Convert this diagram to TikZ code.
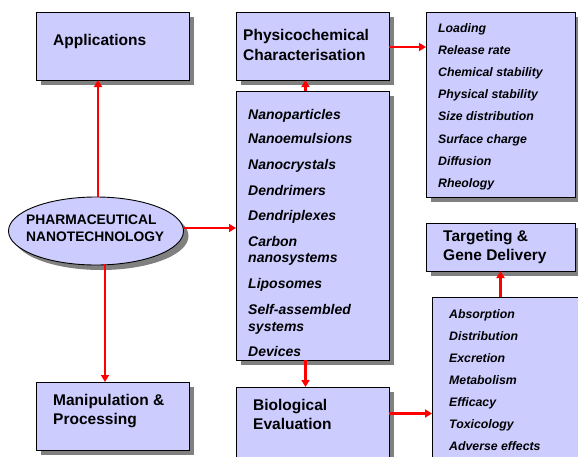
\documentclass[tikz,border=0pt]{standalone}
\usepackage{fontspec}
\setmainfont{Liberation Sans}
\usetikzlibrary{shapes.geometric,shadows,arrows.meta,calc}
\definecolor{boxfill}{HTML}{CCCCFF}
\definecolor{shadowgray}{HTML}{808080}
\begin{document}
\begin{tikzpicture}[x=1pt,y=-1pt,
  shadowed/.style={draw=black,line width=0.9pt,fill=boxfill,
    drop shadow={shadow xshift=5pt,shadow yshift=-5pt,fill=shadowgray,opacity=1}},
  panel/.style={shadowed,rectangle,inner sep=0pt,outer sep=0pt,anchor=north west},
  ttl/.style={anchor=base west,inner sep=0pt,font=\fontsize{15.5}{18}\selectfont\bfseries},
  itm/.style={anchor=base west,inner sep=0pt,font=\fontsize{12.3}{14}\selectfont\bfseries\itshape},
  mitm/.style={anchor=base west,inner sep=0pt,font=\fontsize{14}{16}\selectfont\bfseries\itshape},
  etxt/.style={anchor=base west,inner sep=0pt,font=\fontsize{13.8}{16}\selectfont\bfseries},
  arr/.style={draw=red,line width=2.5pt,-{Triangle[length=7pt,width=8pt]}}]
\useasboundingbox (0,0) rectangle (578,456);

% boxes
\node[panel,minimum width=153pt,minimum height=68pt] (app) at (36,12) {};
\node[panel,minimum width=153pt,minimum height=68pt] (phys) at (236,12) {};
\node[panel,minimum width=153pt,minimum height=269pt] (mid) at (236,91) {};
\node[panel,minimum width=153pt,minimum height=73pt] (bio) at (236,387) {};
\node[panel,minimum width=153pt,minimum height=68pt] (man) at (36,382) {};
\node[panel,minimum width=149pt,minimum height=185pt] (rlist) at (426,12) {};
\node[panel,minimum width=149pt,minimum height=48pt] (targ) at (426,223) {};
\node[panel,minimum width=152pt,minimum height=168pt] (blist) at (432,297) {};
\node[shadowed,ellipse,minimum width=175pt,minimum height=68pt,inner sep=0pt] (ell) at (96,231) {};

% titles
\node[ttl] (tapp) at (53,45.7) {Applications};
\node[ttl] (tphys1) at (243,40.7) {Physicochemical};
\node[ttl] (tphys2) at (243,60) {Characterisation};
\node[ttl] (tman1) at (53,405.7) {Manipulation \&};
\node[ttl] (tman2) at (53,424.3) {Processing};
\node[ttl] (tbio1) at (253,410) {Biological};
\node[ttl] (tbio2) at (253,429) {Evaluation};
\node[ttl] (ttarg1) at (443,241.7) {Targeting \&};
\node[ttl] (ttarg2) at (443,260.7) {Gene Delivery};
\node[etxt] (te1) at (26,224) {PHARMACEUTICAL};
\node[etxt] (te2) at (26,241) {NANOTECHNOLOGY};

% middle list
\node[mitm] (m1) at (248,119.3) {Nanoparticles};
\node[mitm] (m2) at (248,143.3) {Nanoemulsions};
\node[mitm] (m3) at (248,169.5) {Nanocrystals};
\node[mitm] (m4) at (248,195) {Dendrimers};
\node[mitm] (m5) at (248,220) {Dendriplexes};
\node[mitm] (m6) at (248,246) {Carbon};
\node[mitm] (m7) at (248,262.7) {nanosystems};
\node[mitm] (m8) at (248,288) {Liposomes};
\node[mitm] (m9) at (248,314) {Self-assembled};
\node[mitm] (m10) at (248,331) {systems};
\node[mitm] (m11) at (248,356) {Devices};

% right list
\node[itm] (r1) at (438,32) {Loading};
\node[itm] (r2) at (438,54.2) {Release rate};
\node[itm] (r3) at (438,76.4) {Chemical stability};
\node[itm] (r4) at (438,98.6) {Physical stability};
\node[itm] (r5) at (438,120.8) {Size distribution};
\node[itm] (r6) at (438,143) {Surface charge};
\node[itm] (r7) at (438,165.2) {Diffusion};
\node[itm] (r8) at (438,187.2) {Rheology};

% bottom right list
\node[itm] (b1) at (449,318) {Absorption};
\node[itm] (b2) at (449,340.3) {Distribution};
\node[itm] (b3) at (449,362.5) {Excretion};
\node[itm] (b4) at (449,384.5) {Metabolism};
\node[itm] (b5) at (449,406.6) {Efficacy};
\node[itm] (b6) at (449,428.5) {Toxicology};
\node[itm] (b7) at (449,450.6) {Adverse effects};

% connectors
\draw[arr] ($(ell.north)+(2,0)$) -- ($(ell.north |- app.south)+(2,0)$);
\draw[arr] ($(ell.south)+(9,-1)$) -- ($(ell.south |- man.north)+(9,0)$);
\draw[arr] ($(ell.east)+(0,-3)$) -- ($(ell.east -| mid.west)+(0,-3)$);
\draw[arr] ($(mid.north)+(-7,0)$) -- ($(mid.north |- phys.south)+(-7,0)$);
\draw[arr] ($(phys.east)+(0,1)$) -- ($(phys.east -| rlist.west)+(0,1)$);
\draw[arr] ($(mid.south)+(-7,0)$) -- ($(mid.south |- bio.north)+(-7,0)$);
\draw[arr] ($(bio.east)+(0,-10)$) -- ($(bio.east -| blist.west)+(0,-10)$);
\draw[arr] (targ.south |- blist.north) -- (targ.south);
\end{tikzpicture}
\end{document}
